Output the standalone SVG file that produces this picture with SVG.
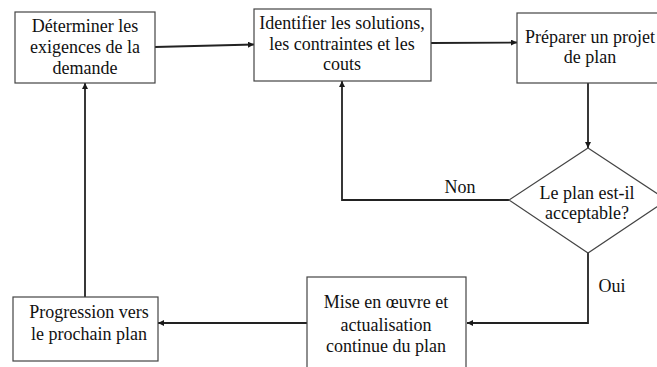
<svg xmlns="http://www.w3.org/2000/svg" width="657" height="367" viewBox="0 0 657 367">
<defs>
<marker id="ah" viewBox="0 0 10 10" refX="10" refY="5" markerWidth="6" markerHeight="6" markerUnits="userSpaceOnUse" orient="auto">
<path d="M0,0 L10,5 L0,10 z" fill="#1a1a1a"/>
</marker>
<style>
.box{fill:#fff;stroke:#444;stroke-width:1.2}
.t{font-family:"Liberation Serif","Times New Roman",serif;font-size:18px;fill:#111;text-anchor:middle}
.c{fill:none;stroke:#222;stroke-width:1.8}
</style>
</defs>
<rect width="657" height="367" fill="#fff"/>
<g id="connectors">
<line class="c" x1="155" y1="47" x2="254" y2="44.5" marker-end="url(#ah)"/>
<line class="c" x1="431" y1="43" x2="517" y2="42.5" marker-end="url(#ah)"/>
<line class="c" x1="588" y1="83" x2="588" y2="148" marker-end="url(#ah)"/>
<polyline class="c" points="509,200 342,200 342,81" marker-end="url(#ah)"/>
<polyline class="c" points="588,253 588,323 467,323" marker-end="url(#ah)"/>
<line class="c" x1="307" y1="323" x2="158" y2="323" marker-end="url(#ah)"/>
<line class="c" x1="85" y1="297" x2="85" y2="83" marker-end="url(#ah)"/>
</g>
<g id="n1">
<rect class="box" x="15" y="12" width="140" height="71"/>
<text class="t" x="85" y="32">Déterminer les</text>
<text class="t" x="85" y="53">exigences de la</text>
<text class="t" x="85" y="74">demande</text>
</g>
<g id="n2">
<rect class="box" x="254" y="9" width="177" height="72"/>
<text class="t" x="342" y="29">Identifier les solutions,</text>
<text class="t" x="342" y="50">les contraintes et les</text>
<text class="t" x="342" y="70">couts</text>
</g>
<g id="n3">
<rect class="box" x="517" y="13" width="145" height="70"/>
<text class="t" x="590" y="43">Préparer un projet</text>
<text class="t" x="590" y="63">de plan</text>
</g>
<g id="n4">
<polygon class="box" points="588,148 667,200 588,253 509,200"/>
<text class="t" x="587" y="199">Le plan est-il</text>
<text class="t" x="587" y="219">acceptable?</text>
</g>
<g id="n5">
<rect class="box" x="307" y="277" width="159" height="100"/>
<text class="t" x="386" y="308">Mise en œuvre et</text>
<text class="t" x="386" y="331">actualisation</text>
<text class="t" x="386" y="352">continue du plan</text>
</g>
<g id="n6">
<rect class="box" x="13" y="297" width="145" height="64"/>
<text class="t" x="89" y="318">Progression vers</text>
<text class="t" x="89" y="340">le prochain plan</text>
</g>
<g id="labels">
<text class="t" x="460" y="193">Non</text>
<text class="t" x="612" y="292">Oui</text>
</g>
</svg>
